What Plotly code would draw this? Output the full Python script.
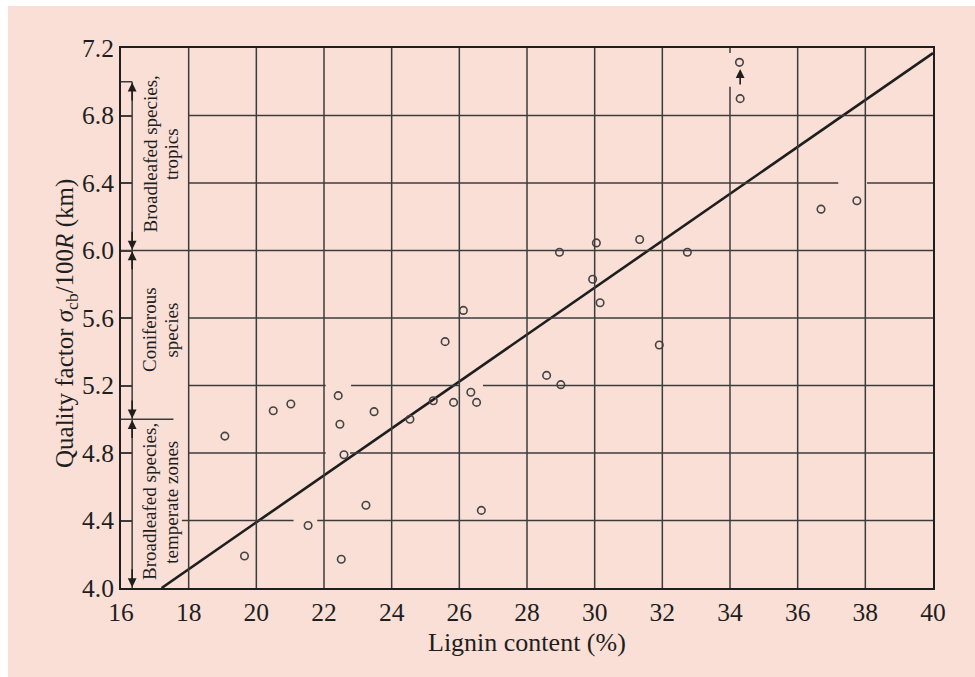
import plotly.graph_objects as go

# Measured specimens: lignin content (%) vs. quality factor (km)
lignin = [19.07, 19.65, 20.50, 21.02, 21.53, 22.42, 22.47, 22.51, 22.59, 23.24,
          23.48, 24.54, 25.23, 25.58, 25.83, 26.12, 26.34, 26.51, 26.65, 28.58,
          29.00, 28.96, 29.94, 30.05, 30.16, 31.33, 31.91, 32.74, 34.28, 34.30,
          36.69, 37.75]
quality = [4.90, 4.19, 5.05, 5.09, 4.37, 5.14, 4.97, 4.17, 4.79, 4.49,
           5.045, 5.00, 5.11, 5.46, 5.10, 5.645, 5.16, 5.10, 4.46, 5.26,
           5.205, 5.99, 5.83, 6.045, 5.69, 6.065, 5.44, 5.99, 7.115, 6.90,
           6.245, 6.295]

# Fitted trend line
fit_x = [17.2, 40.0]
fit_y = [4.0, 7.17]

x_ticks = [16, 18, 20, 22, 24, 26, 28, 30, 32, 34, 36, 38, 40]
x_tick_labels = [str(v) for v in x_ticks]
y_ticks = [4.0, 4.4, 4.8, 5.2, 5.6, 6.0, 6.4, 6.8, 7.2]
y_tick_labels = ["4.0", "4.4", "4.8", "5.2", "5.6", "6.0", "6.4", "6.8", "7.2"]

# Species groups along the left bracket: (label lines, lower bound, upper bound)
groups = [
    (["Broadleafed species,", "tropics"], 6.0, 7.0),
    (["Coniferous", "species"], 5.0, 6.0),
    (["Broadleafed species,", "temperate zones"], 4.0, 5.0),
]

INK = "#1e1e1e"
GRID = "#3c3c3c"
PEACH = "#f9dfd6"
SERIF = "Liberation Serif, Times New Roman, serif"

fig = go.Figure()

fig.add_trace(go.Scatter(
    x=fit_x, y=fit_y, mode="lines",
    line=dict(color="#1e1e1e", width=2.6),
    hoverinfo="skip", showlegend=False,
))
fig.add_trace(go.Scatter(
    x=lignin, y=quality, mode="markers",
    marker=dict(symbol="circle-open", size=7.5, color="#444444",
                line=dict(width=1.6, color="#444444")),
    showlegend=False,
))

shapes = []
# thin white strips along the top and left page edges
shapes.append(dict(type="rect", xref="paper", yref="paper", layer="below",
                   x0=-0.2, x1=1.1, y0=(588 - 6) / 540, y1=1.2,
                   fillcolor="white", line=dict(width=0)))
shapes.append(dict(type="rect", xref="paper", yref="paper", layer="below",
                   x0=-0.2, x1=(8 - 121) / 812, y0=-0.2, y1=1.2,
                   fillcolor="white", line=dict(width=0)))

def seg(x0, y0, x1, y1, w=1.5, color=GRID):
    shapes.append(dict(type="line", xref="x", yref="y", x0=x0, y0=y0, x1=x1, y1=y1,
                       line=dict(color=color, width=w), layer="above"))

# vertical grid
for xv in x_ticks[1:-1]:
    if xv == 34:
        seg(xv, 4.0, xv, 6.97)
        seg(xv, 7.17, xv, 7.2)
    else:
        seg(xv, 4.0, xv, 7.2)

# horizontal grid, broken where it passes near labelled points
h_grid = {
    6.8: [(18, 40)],
    6.4: [(18, 37.2), (38.05, 40)],
    6.0: [(16, 40)],
    5.6: [(18, 40)],
    5.2: [(18, 22.05), (22.8, 26.0), (26.7, 40)],
    5.0: [(16, 17.55)],
    4.8: [(18, 22.05), (22.77, 40)],
    4.4: [(17.8, 21.1), (21.8, 40)],
}
for yv, parts in h_grid.items():
    for a, b in parts:
        seg(a, yv, b, yv)

# bracket for species groups
bx = 16.33
seg(16, 7.0, bx, 7.0)
seg(bx, 4.0, bx, 7.0)

annotations = []

def arrow(x, y_tip, y_tail):
    annotations.append(dict(x=x, y=y_tip, ax=x, ay=y_tail, xref="x", yref="y",
                            axref="x", ayref="y", text="", showarrow=True,
                            arrowhead=2, arrowsize=1.1, arrowwidth=1.6,
                            arrowcolor=INK, standoff=0, startstandoff=0))

for lines, lo, hi in groups:
    arrow(bx, hi - 0.005, hi - 0.12)
    arrow(bx, lo + 0.005, lo + 0.12)

# upward shift marker for the highest specimen
arrow(34.3, 7.075, 6.975)

# group labels, written bottom-to-top
label_pos = {
    0: (6.57, 6.57),
    1: (5.53, 5.53),
    2: (4.51, 4.51),
}
line_x = [16.86, 17.5]
for i, (lines, lo, hi) in enumerate(groups):
    for j, txt in enumerate(lines):
        annotations.append(dict(x=line_x[j], y=label_pos[i][j], xref="x", yref="y",
                                text=txt, showarrow=False, textangle=-90,
                                xanchor="center", yanchor="middle",
                                font=dict(family=SERIF, size=19, color=INK)))

# axis titles
annotations.append(dict(x=0.5, y=(588 - 642) / 540, xref="paper", yref="paper",
                        text="Lignin content (%)", showarrow=False,
                        xanchor="center", yanchor="middle",
                        font=dict(family=SERIF, size=26, color=INK)))
annotations.append(dict(x=(66 - 121) / 812, y=(588 - 324) / 540, xref="paper", yref="paper",
                        text="Quality factor <i>σ</i><sub>cb</sub>/100<i>R</i> (km)",
                        showarrow=False, textangle=-90,
                        xanchor="center", yanchor="middle",
                        font=dict(family=SERIF, size=25, color=INK)))

fig.update_layout(
    width=975, height=677,
    margin=dict(l=121, r=42, t=48, b=89),
    paper_bgcolor=PEACH,
    plot_bgcolor="rgba(0,0,0,0)",
    shapes=shapes,
    annotations=annotations,
    xaxis=dict(range=[16, 40], tickvals=x_ticks, ticktext=x_tick_labels,
               showgrid=False, zeroline=False, ticks="",
               showline=True, mirror=True, linecolor=INK, linewidth=2,
               tickfont=dict(family=SERIF, size=25.5, color=INK)),
    yaxis=dict(range=[4.0, 7.2], tickvals=y_ticks, ticktext=y_tick_labels,
               showgrid=False, zeroline=False, ticks="inside", ticklen=11,
               tickwidth=1.5, tickcolor=GRID,
               showline=True, mirror=True, linecolor=INK, linewidth=2,
               tickfont=dict(family=SERIF, size=25.5, color=INK)),
)

fig.write_html("out.html")
